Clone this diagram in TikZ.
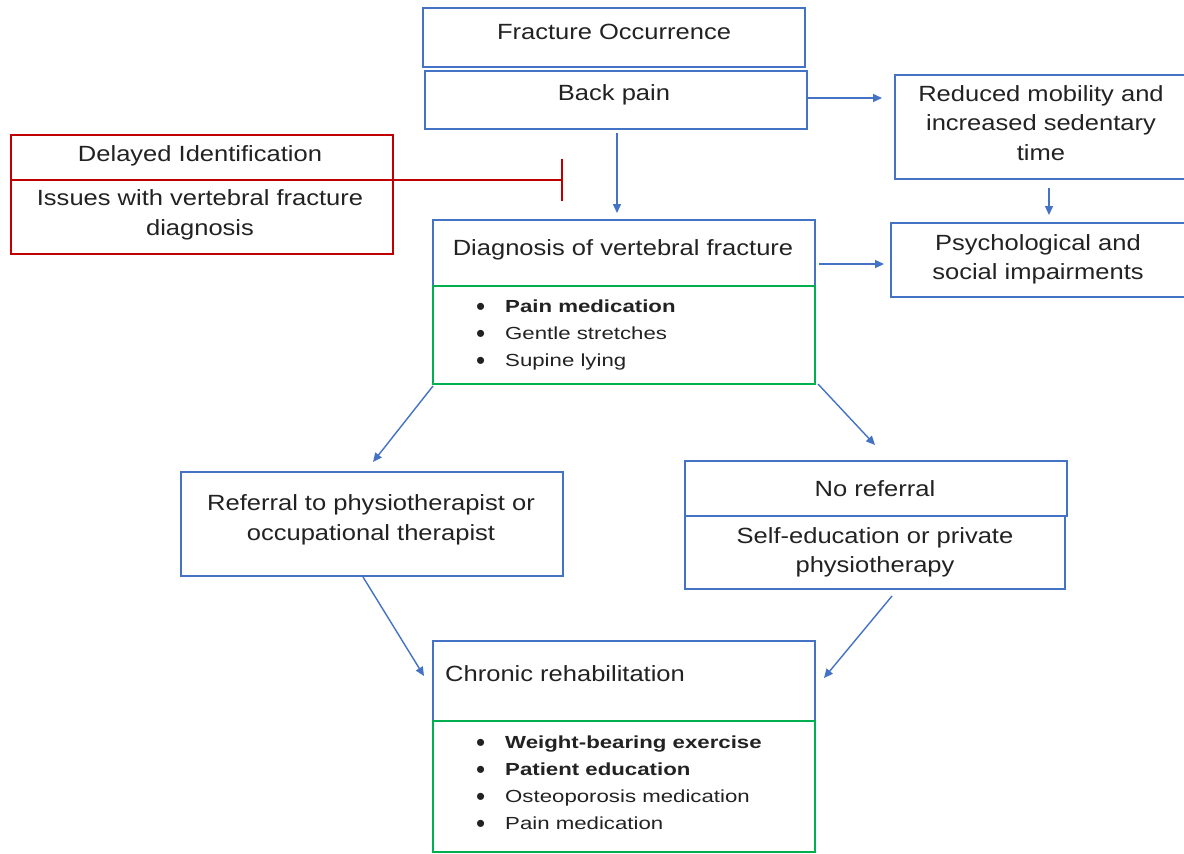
\documentclass[tikz,border=0pt]{standalone}
\usepackage{fontspec}
\setmainfont[FakeStretch=1.16]{Liberation Sans}
\newfontfamily\listfont[FakeStretch=1.27]{Liberation Sans}
\newfontfamily\dotfont{Liberation Sans}
\usepackage{xcolor}
\usetikzlibrary{calc,arrows.meta}
\definecolor{boxBlue}{HTML}{4472C4}
\definecolor{boxGreen}{HTML}{00B050}
\definecolor{boxRed}{HTML}{C00000}
\definecolor{ink}{HTML}{222222}
\newcommand{\listItem}[1]{\makebox[29pt][l]{\raisebox{-2.9pt}{\dotfont\fontsize{26}{27}\selectfont\textbullet}}#1}
\tikzset{
  blueBox/.style={draw=boxBlue, line width=1.6pt, anchor=north west, inner sep=0pt, outer sep=0pt},
  greenBox/.style={draw=boxGreen, line width=1.6pt, anchor=north west, inner sep=0pt, outer sep=0pt},
  redBox/.style={draw=boxRed, line width=1.6pt, anchor=north west, inner sep=0pt, outer sep=0pt},
  boxText/.style={text=ink, font=\fontsize{22}{29.5}\selectfont, align=center, inner sep=0pt},
  listText/.style={text=ink, font=\listfont\fontsize{17.5}{27}\selectfont, align=left, anchor=north west, inner sep=0pt},
  flowArrow/.style={draw=boxBlue, line width=1.4pt, -{Triangle[length=9pt,width=8pt]}},
  blockLine/.style={draw=boxRed, line width=1.6pt, -{Bar[width=42pt]}}
}

\begin{document}
\begin{tikzpicture}[x=1pt, y=-1pt]
  \path[fill=white, use as bounding box] (0,0) rectangle (1184,854);

  % boxes
  \node[blueBox, minimum width=382pt, minimum height=59pt] (fracBox) at (423,8) {};
  \node[blueBox, minimum width=382pt, minimum height=58pt] (backBox) at (425,71) {};
  \node[blueBox, minimum width=300pt, minimum height=104pt] (mobBox) at (895,75) {};
  \node[blueBox, minimum width=300pt, minimum height=74pt] (psyBox) at (891,223) {};
  \node[redBox, minimum width=382pt, minimum height=45pt] (delayHead) at (11,135) {};
  \node[redBox, minimum width=382pt, minimum height=74pt] (delayBody) at (11,180) {};
  \node[blueBox, minimum width=382pt, minimum height=66pt] (diagHead) at (433,220) {};
  \node[greenBox, minimum width=382pt, minimum height=98pt] (diagList) at (433,286) {};
  \node[blueBox, minimum width=382pt, minimum height=104pt] (refBox) at (181,472) {};
  \node[blueBox, minimum width=382pt, minimum height=55pt] (noRefHead) at (685,461) {};
  \node[blueBox, minimum width=380pt, minimum height=73pt] (noRefBody) at (685,516) {};
  \node[blueBox, minimum width=382pt, minimum height=80pt] (chronHead) at (433,641) {};
  \node[greenBox, minimum width=382pt, minimum height=131pt] (chronList) at (433,721) {};

  % texts
  \node[boxText] (fracTxt) at (614,31.5) {Fracture Occurrence};
  \node[boxText] (backTxt) at (614,95) {Back pain};
  \node[boxText] (mobTxt) at (1041,123) {Reduced mobility and\\increased sedentary\\time};
  \node[boxText] (psyTxt) at (1038,259.5) {Psychological and\\social impairments};
  \node[boxText] (delayTxt) at (200,156) {Delayed Identification};
  \node[boxText] (issueTxt) at (200,215) {Issues with vertebral fracture\\diagnosis};
  \node[boxText] (diagTxt) at (623,250) {Diagnosis of vertebral fracture};
  \node[boxText] (refTxt) at (371,520) {Referral to physiotherapist or\\occupational therapist};
  \node[boxText] (noRefTxt) at (875,488.5) {No referral};
  \node[boxText] (selfTxt) at (875,552.5) {Self-education or private\\physiotherapy};
  \node[boxText, anchor=west] (chronTxt) at (445,674) {Chronic rehabilitation};

  \node[listText] (diagItems) at (476,300) {\listItem{\textbf{Pain medication}}\\
    \listItem{Gentle stretches}\\\listItem{Supine lying}};
  \node[listText] (chronItems) at (476,736) {\listItem{\textbf{Weight-bearing exercise}}\\
    \listItem{\textbf{Patient education}}\\\listItem{Osteoporosis medication}\\
    \listItem{Pain medication}};

  % connectors
  \coordinate (blockEnd) at (563,180);
  \draw[blockLine] (delayHead.south east) -- (blockEnd);

  \draw[flowArrow] ($(backBox.east)+(0,-2)$) -- ($(mobBox.west |- backBox.east)+(-13,-2)$);
  \draw[flowArrow] ($(mobBox.south)+(4,9)$) -- ($(mobBox.south |- psyBox.north)+(4,-8)$);
  \draw[flowArrow] ($(backBox.south)+(1,4)$) -- ($(backBox.south |- diagHead.north)+(1,-7)$);
  \draw[flowArrow] ($(diagHead.east)+(4,11)$) -- ($(psyBox.west |- diagHead.east)+(-7,11)$);
  \draw[flowArrow] ($(diagList.south west)+(0,2)$) -- ($(refBox.north)+(1,-10)$);
  \draw[flowArrow] ($(diagList.south east)+(3,0)$) -- ($(noRefHead.north)+(-1,-16)$);
  \draw[flowArrow] ($(refBox.south)+(-9,1)$) -- ($(chronHead.west)+(-9,-5)$);
  \draw[flowArrow] ($(noRefBody.south)+(17,7)$) -- ($(chronHead.east)+(9,-3)$);
\end{tikzpicture}
\end{document}
